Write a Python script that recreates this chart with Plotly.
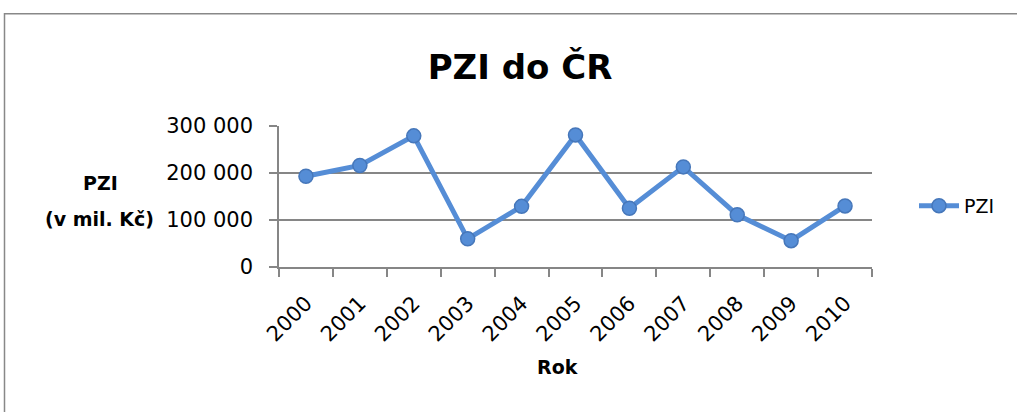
import plotly.graph_objects as go

years = ["2000", "2001", "2002", "2003", "2004", "2005", "2006", "2007", "2008", "2009", "2010"]
pzi = [193000, 216000, 279000, 60000, 129000, 281000, 125000, 213000, 111000, 56000, 130000]
y_ticks = [0, 100000, 200000, 300000]
y_ticktext = ["0", "100 000", "200 000", "300 000"]

FONT = "DejaVu Sans"
W, H = 1017, 412
PL, PR, PT, PB = 279, 872, 126, 267.3  # plot area in screen pixels
L, R, T, B = PL, W - PR, PT, H - PB
pw = PR - PL
ph = PB - PT

def px_x(x):
    return (x - PL) / pw

def px_y(y):
    return (PB - y) / ph

line_color = "#558DD6"

fig = go.Figure()
fig.add_trace(go.Scatter(
    x=years, y=pzi, mode="lines+markers", name="PZI",
    line=dict(color=line_color, width=5),
    marker=dict(size=14, color=line_color, line=dict(color="#4677BA", width=1.5)),
))

fig.update_layout(
    width=W, height=H,
    margin=dict(l=L, r=R, t=T, b=B),
    paper_bgcolor="white", plot_bgcolor="white",
    font=dict(family=FONT, size=21, color="black"),
    title=dict(text="<b>PZI do ČR</b>", x=520 / W, xanchor="center",
               y=1 - 67 / H, yanchor="middle",
               font=dict(family=FONT, size=34, color="black")),
    showlegend=True,
    legend=dict(x=px_x(914), y=px_y(206), xanchor="left", yanchor="middle",
                itemwidth=40,
                font=dict(family=FONT, size=19, color="black"),
                bgcolor="rgba(0,0,0,0)"),
    xaxis=dict(type="category", showgrid=False, showline=True, linecolor="#868686",
               linewidth=1.5, ticks="outside", tickson="boundaries", ticklen=8,
               tickcolor="#868686", tickwidth=1.5, tickangle=-45, ticklabelstandoff=14,
               tickfont=dict(family=FONT, size=21, color="black"), range=[-0.5, 10.5]),
    yaxis=dict(range=[0, 300000], tickvals=y_ticks, ticktext=y_ticktext,
               showgrid=True, gridcolor="#868686", gridwidth=1.5,
               showline=True, linecolor="#868686", linewidth=1.5,
               ticks="outside", ticklen=8, tickcolor="#868686", tickwidth=1.5,
               ticklabelstandoff=12,
               tickfont=dict(family=FONT, size=21, color="black"), zeroline=False),
    annotations=[
        dict(text="<b>PZI</b>", x=px_x(100), y=px_y(183), xref="paper", yref="paper",
             showarrow=False, xanchor="center", yanchor="middle",
             font=dict(family=FONT, size=19, color="black")),
        dict(text="<b>(v mil. Kč)</b>", x=px_x(99), y=px_y(219), xref="paper", yref="paper",
             showarrow=False, xanchor="center", yanchor="middle",
             font=dict(family=FONT, size=19, color="black")),
        dict(text="<b>Rok</b>", x=px_x(557), y=px_y(368), xref="paper", yref="paper",
             showarrow=False, xanchor="center", yanchor="middle",
             font=dict(family=FONT, size=19, color="black")),
    ],
    shapes=[dict(type="rect", xref="paper", yref="paper",
                 x0=px_x(4.5), y0=px_y(13.5), x1=px_x(1100), y1=px_y(500),
                 line=dict(color="#888888", width=1.5), fillcolor="rgba(0,0,0,0)", layer="below")],
)

# remove the default 8px body margin so the figure fills the window exactly
fig.write_html("out.html", config={"displayModeBar": False},
               post_script="document.body.style.margin='0';")
